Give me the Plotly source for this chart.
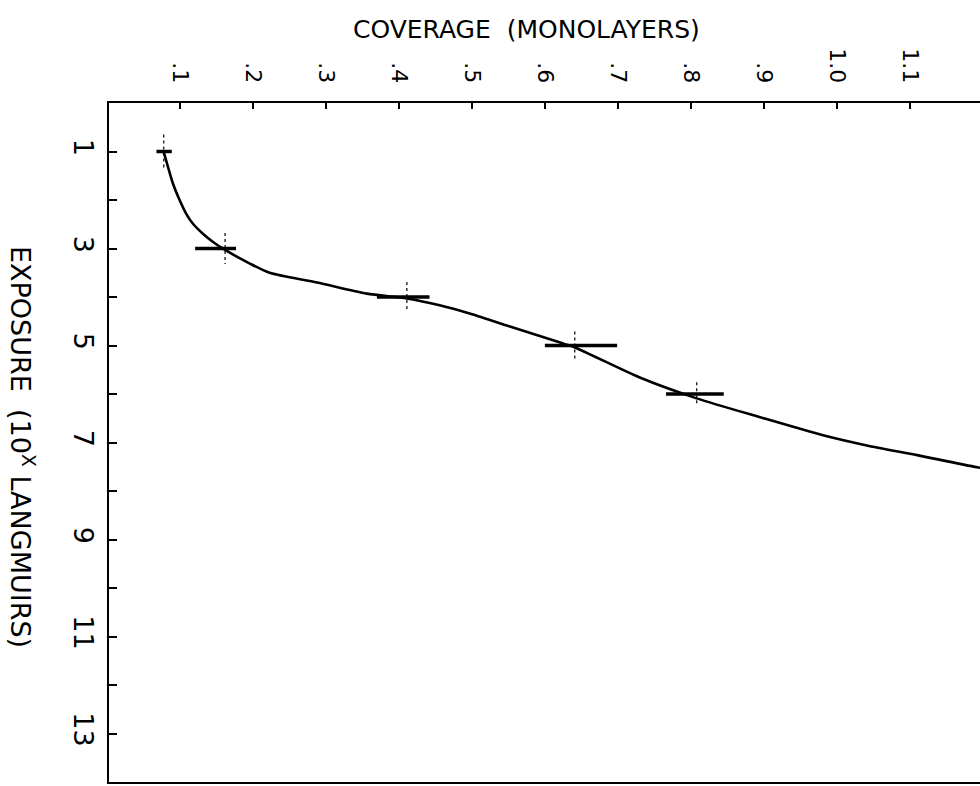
import plotly.graph_objects as go

# ---- data ----
exposure_pts = [1, 3, 4, 5, 6]
coverage_pts = [0.078, 0.162, 0.411, 0.641, 0.808]
coverage_err_plus = [0.011, 0.015, 0.031, 0.058, 0.037]
coverage_err_minus = [0.010, 0.041, 0.041, 0.041, 0.042]
exposure_err = [0.35, 0.32, 0.31, 0.29, 0.24]

curve_coverage = [0.078, 0.0795, 0.084, 0.0908, 0.100, 0.109, 0.118, 0.132, 0.146,
                  0.162, 0.196, 0.223, 0.288, 0.356, 0.411, 0.456, 0.497, 0.548,
                  0.621, 0.641, 0.730, 0.808, 0.895, 0.981, 1.041, 1.110, 1.192, 1.25]
curve_exposure = [1.02, 1.09, 1.33, 1.67, 2.01, 2.29, 2.49, 2.70, 2.87,
                  3.03, 3.31, 3.50, 3.70, 3.93, 4.03, 4.17, 4.34, 4.59,
                  4.94, 5.04, 5.66, 6.09, 6.48, 6.85, 7.06, 7.26, 7.51, 7.65]

coverage_ticks = [0.1, 0.2, 0.3, 0.4, 0.5, 0.6, 0.7, 0.8, 0.9, 1.0, 1.1]
coverage_labels = [".1", ".2", ".3", ".4", ".5", ".6", ".7", ".8", ".9", "1.0", "1.1"]
exposure_ticks = [1, 3, 5, 7, 9, 11, 13]
exposure_labels = ["1", "3", "5", "7", "9", "11", "13"]
exposure_minor_ticks = [2, 4, 6, 8, 10, 12]

FONT = "DejaVu Sans"

fig = go.Figure()

# smooth fitted curve
fig.add_trace(go.Scatter(
    x=curve_coverage, y=curve_exposure, mode="lines",
    line=dict(color="black", width=2.6, shape="spline", smoothing=0.7),
    showlegend=False, hoverinfo="skip"))

# horizontal (coverage) error bars
fig.add_trace(go.Scatter(
    x=coverage_pts, y=exposure_pts, mode="markers",
    marker=dict(size=1, color="black"),
    error_x=dict(type="data", symmetric=False, array=coverage_err_plus,
                 arrayminus=coverage_err_minus, thickness=3.5, width=0, color="black"),
    showlegend=False))

# vertical (exposure) dashed error bars
vx, vy = [], []
for c, e, d in zip(coverage_pts, exposure_pts, exposure_err):
    vx += [c, c, None]
    vy += [e - d, e + d, None]
fig.add_trace(go.Scatter(
    x=vx, y=vy, mode="lines",
    line=dict(color="black", width=1.2, dash="dot"),
    showlegend=False, hoverinfo="skip"))

fig.update_layout(
    width=980, height=786,
    margin=dict(l=109, r=0, t=103, b=4),
    paper_bgcolor="white", plot_bgcolor="white",
    font=dict(family=FONT, color="black"),
    showlegend=False,
)

fig.update_xaxes(
    side="top", range=[0.003, 1.196],
    tickmode="array", tickvals=coverage_ticks, ticktext=coverage_labels,
    tickangle=90, tickfont=dict(size=22, family=FONT, color="black"),
    ticks="inside", ticklen=6, tickwidth=2, tickcolor="black",
    showline=True, linewidth=2, linecolor="black", mirror=True,
    showgrid=False, zeroline=False, ticklabelstandoff=10,
)
fig.update_yaxes(
    range=[14, 0],
    tickmode="array", tickvals=exposure_ticks, ticktext=exposure_labels,
    tickangle=90, tickfont=dict(size=27, family=FONT, color="black"),
    ticks="inside", ticklen=8, tickwidth=2, tickcolor="black",
    minor=dict(tickvals=exposure_minor_ticks, ticks="inside", ticklen=8,
               tickwidth=2, tickcolor="black", showgrid=False),
    showline=True, linewidth=2, linecolor="black", mirror=False,
    showgrid=False, zeroline=False, ticklabelstandoff=1,
)

fig.add_annotation(
    text="COVERAGE  (MONOLAYERS)", xref="paper", yref="paper",
    x=(526 - 109) / 871, y=(782 - 30) / 679, showarrow=False,
    xanchor="center", yanchor="middle",
    font=dict(size=25, family=FONT, color="black"))
fig.add_annotation(
    text="EXPOSURE  (10<sup>X</sup> LANGMUIRS)", xref="paper", yref="paper",
    x=(23 - 109) / 871, y=(782 - 447) / 679, showarrow=False, textangle=90,
    xanchor="center", yanchor="middle",
    font=dict(size=27, family=FONT, color="black"))

fig.write_html("out.html")
